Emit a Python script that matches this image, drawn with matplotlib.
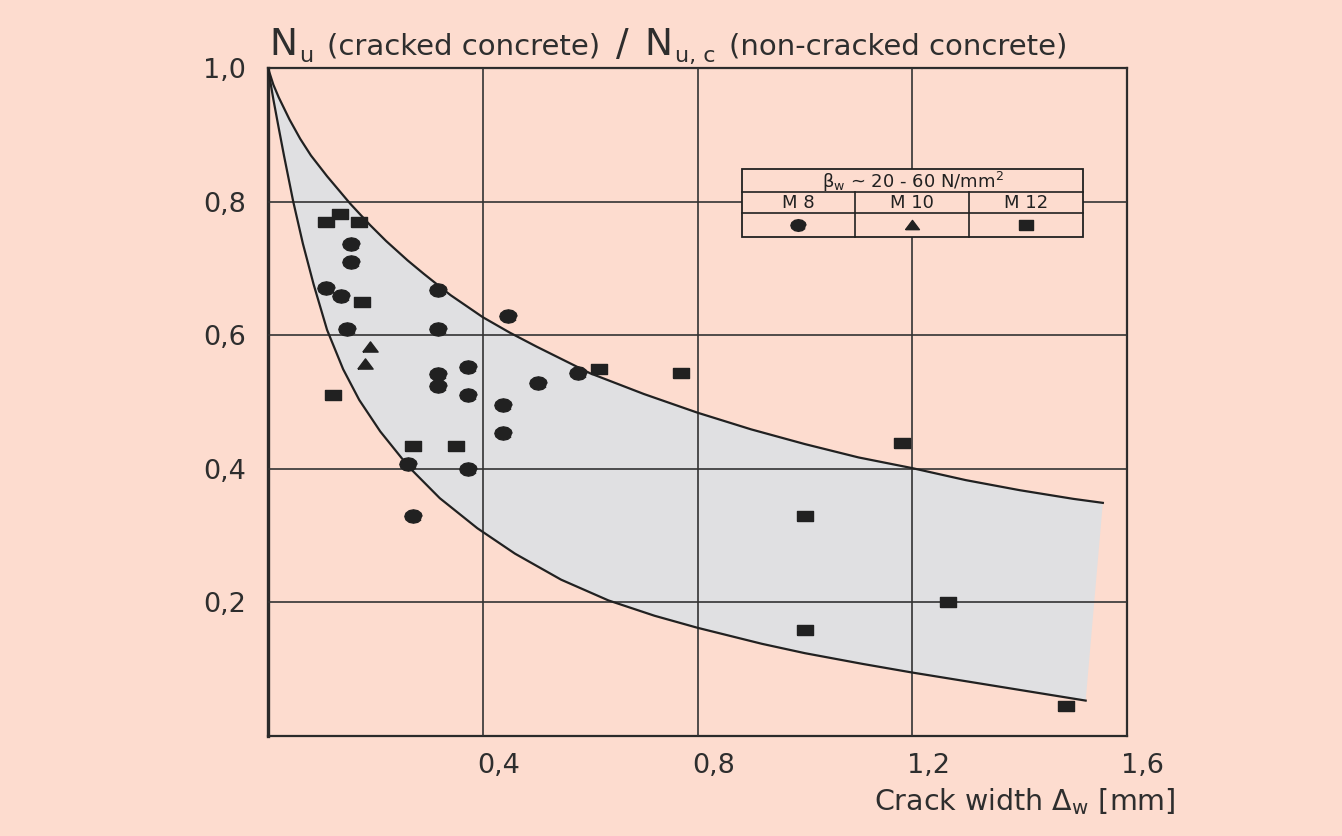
import matplotlib
matplotlib.use("Agg")
import numpy as np
import matplotlib.pyplot as plt
import matplotlib.transforms as mtransforms
from matplotlib.patches import Rectangle

# band limits: crack width [mm] -> Nu / Nu,c
upper_x = [0, 0.01, 0.02, 0.04, 0.06, 0.08, 0.11, 0.153, 0.19, 0.22, 0.26, 0.29, 0.34, 0.40,
           0.45, 0.50, 0.60, 0.70, 0.80, 0.90, 1.00, 1.10, 1.20, 1.30, 1.40, 1.50, 1.555]
upper_y = [1.0, 0.975, 0.956, 0.923, 0.894, 0.869, 0.838, 0.797, 0.765, 0.741, 0.712, 0.692, 0.66, 0.627,
           0.604, 0.583, 0.543, 0.512, 0.484, 0.459, 0.437, 0.417, 0.401, 0.383, 0.368, 0.355, 0.349]
lower_x = [0, 0.01, 0.02, 0.03, 0.047, 0.065, 0.085, 0.11, 0.14, 0.17, 0.209, 0.262, 0.32, 0.39,
           0.46, 0.546, 0.634, 0.72, 0.80, 0.92, 1.00, 1.107, 1.20, 1.30, 1.40, 1.523]
lower_y = [1.0, 0.953, 0.91, 0.868, 0.80, 0.737, 0.676, 0.608, 0.549, 0.503, 0.456, 0.403, 0.356, 0.311,
           0.273, 0.234, 0.203, 0.180, 0.162, 0.138, 0.124, 0.108, 0.095, 0.082, 0.069, 0.053]

# test results per anchor size
m8_x = [0.155, 0.155, 0.108, 0.136, 0.148, 0.316, 0.316, 0.447, 0.372, 0.316,
        0.316, 0.372, 0.503, 0.437, 0.437, 0.260, 0.372, 0.271, 0.577]
m8_y = [0.736, 0.710, 0.671, 0.658, 0.610, 0.667, 0.610, 0.629, 0.553, 0.542,
        0.524, 0.511, 0.529, 0.496, 0.454, 0.407, 0.400, 0.330, 0.544]
m10_x = [0.190, 0.181]
m10_y = [0.583, 0.557]
m12_x = [0.134, 0.108, 0.170, 0.175, 0.121, 0.271, 0.350, 0.617, 0.770, 1.181,
         1.000, 1.000, 1.266, 1.486]
m12_y = [0.782, 0.770, 0.770, 0.650, 0.511, 0.434, 0.434, 0.550, 0.544, 0.439,
         0.330, 0.159, 0.201, 0.045]

xticks = [0.4, 0.8, 1.2, 1.6]
xtick_labels = ["0,4", "0,8", "1,2", "1,6"]
yticks = [0.2, 0.4, 0.6, 0.8, 1.0]
ytick_labels = ["0,2", "0,4", "0,6", "0,8", "1,0"]
legend_cols = ["M 8", "M 10", "M 12"]

BG = "#fddccf"
BAND = "#e0e0e2"
INK = "#212121"
TXT = "#2e2e2e"
W, H = 1342, 836

plt.rcParams["font.family"] = ["DejaVu Sans"]
plt.rcParams["mathtext.default"] = "regular"

fig = plt.figure(figsize=(W / 100, H / 100), dpi=100, facecolor=BG)
ax = fig.add_axes([268 / W, 1 - 736 / H, (1127 - 268) / W, (736 - 68) / H])
ax.set_facecolor(BG)

# squashed marker shapes like the scanned print
ang = np.linspace(0, 2 * np.pi, 13)[:-1]
blob = list(zip(1.5 * np.cos(ang), 1.15 * np.sin(ang)))
rect = [(-1.5, -1.05), (1.5, -1.05), (1.5, 1.05), (-1.5, 1.05), (-1.5, -1.05)]
tri = [(-1.5, -0.9), (1.5, -0.9), (0, 1.1), (-1.5, -0.9)]

ax.fill(upper_x + lower_x[::-1], upper_y + lower_y[::-1], color=BAND, lw=0, zorder=1)
ax.plot(upper_x, upper_y, color=INK, lw=1.6, zorder=3)
ax.plot(lower_x, lower_y, color=INK, lw=1.6, zorder=3)

ax.plot(m8_x, m8_y, ls="none", marker=blob, ms=12.5, color=INK, zorder=4)
ax.plot(m10_x, m10_y, ls="none", marker=tri, ms=11, color=INK, zorder=4)
ax.plot(m12_x, m12_y, ls="none", marker=rect, ms=11, color=INK, zorder=4)

ax.set_xlim(0, 1.6)
ax.set_ylim(0, 1.0)
ax.set_xticks(xticks)
ax.set_xticklabels(xtick_labels)
ax.set_yticks(yticks)
ax.set_yticklabels(ytick_labels)
ax.tick_params(length=0, labelsize=19.5, colors=TXT)
ax.tick_params(axis="y", pad=16)
ax.tick_params(axis="x", pad=12)
ax.set_axisbelow(False)
ax.grid(True, color="#333333", lw=1.2, zorder=2)
for side in ax.spines:
    ax.spines[side].set_color("#2a2a2a")
    ax.spines[side].set_linewidth(1.6)
ax.spines["left"].set_linewidth(2.4)

shift = mtransforms.ScaledTranslation(16 / 100, 0, fig.dpi_scale_trans)
for lab in ax.get_xticklabels():
    lab.set_transform(lab.get_transform() + shift)

# legend table
x0, x1, c1, c2 = 0.552, 0.949, 0.683, 0.816
yt, r1, r2, yb = 0.849, 0.814, 0.783, 0.747
ax.add_patch(Rectangle((x0, yb), x1 - x0, yt - yb, transform=ax.transAxes,
                       facecolor=BG, edgecolor=INK, lw=1.3, zorder=6))
ax.plot([x0, x1], [r1, r1], color=INK, lw=1.2, transform=ax.transAxes, zorder=7)
ax.plot([x0, x1], [r2, r2], color=INK, lw=1.2, transform=ax.transAxes, zorder=7)
for cx in (c1, c2):
    ax.plot([cx, cx], [yb, r1], color=INK, lw=1.2, transform=ax.transAxes, zorder=7)
ax.text((x0 + x1) / 2, (yt + r1) / 2 - 0.002, r"$\beta_{w}$ ~ 20 - 60 N/mm$^{2}$", transform=ax.transAxes,
        ha="center", va="center", fontsize=13, color=INK, zorder=8)
centers = [(x0 + c1) / 2, (c1 + c2) / 2, (c2 + x1) / 2]
for cx, name in zip(centers, legend_cols):
    ax.text(cx, (r1 + r2) / 2, name, transform=ax.transAxes, ha="center", va="center",
            fontsize=13, color=INK, zorder=8)
for cx, mk, ms in zip(centers, [blob, tri, rect], [11, 10, 10.5]):
    ax.plot([cx], [(r2 + yb) / 2], marker=mk, ms=ms, color=INK, transform=ax.transAxes,
            clip_on=False, zorder=8)

# title pieces: big N with small subscripts, chained left to right
renderer = fig.canvas.get_renderer()
pieces = [("N", 27, 55, 0), ("u", 16, 62, 2), ("(cracked concrete)", 21, 55, 14),
          ("/", 27, 55, 16), ("N", 27, 55, 16), ("u, c", 16, 62, 2),
          ("(non-cracked concrete)", 21, 55, 14)]
x = 269
for s, size, base, gap in pieces:
    t = fig.text((x + gap) / W, 1 - base / H, s, fontsize=size, color=TXT, ha="left", va="baseline")
    x = t.get_window_extent(renderer).x1

fig.text(1175 / W, 1 - 810 / H, r"Crack width $\Delta_{w}$ [mm]", fontsize=20.5, color=TXT,
         ha="right", va="baseline")

fig.savefig("out.png", dpi=100, facecolor=BG)
